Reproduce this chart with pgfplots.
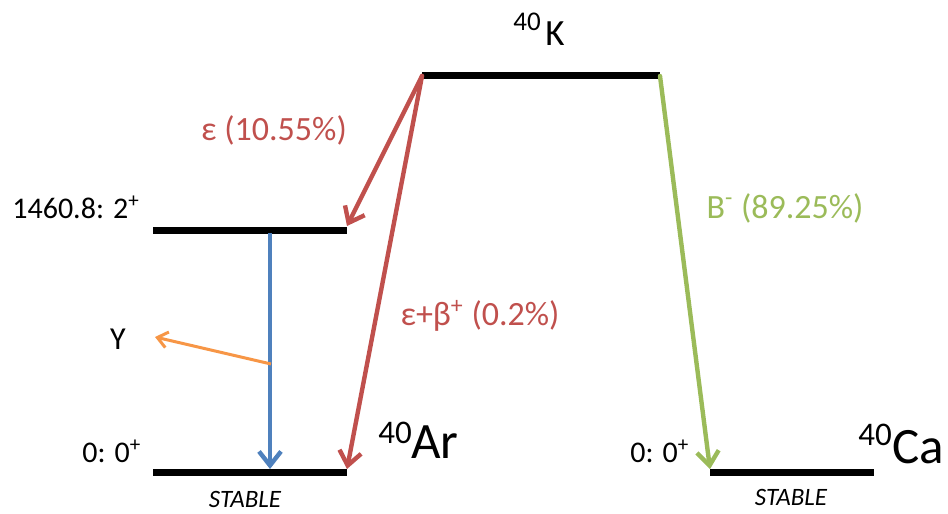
\documentclass[border=0pt]{standalone}
\usepackage{pgfplots}
\pgfplotsset{compat=1.18}
\usepackage{fontspec}
\setmainfont{Carlito}
\usetikzlibrary{arrows.meta}
\definecolor{dred}{HTML}{C0504D}
\definecolor{dgreen}{HTML}{9BBB59}
\definecolor{dblue}{HTML}{4F81BD}
\definecolor{dorange}{HTML}{F79646}
\newcommand{\fs}[1]{\fontsize{#1}{#1}\selectfont}
\begin{document}
\begin{tikzpicture}
\begin{axis}[x=0.5pt,y=0.5pt,xmin=0,xmax=948,ymin=0,ymax=514,y dir=reverse,
  hide axis,clip=false]
\addplot[draw=none,mark=none,forget plot] coordinates {(0,0) (948,514)};
% levels
\addplot[black,line width=3.5pt,mark=none] coordinates {(422,75) (660,75)};
\addplot[black,line width=3.5pt,mark=none] coordinates {(153,230) (347,230)};
\addplot[black,line width=3.5pt,mark=none] coordinates {(153,472) (347,472)};
\addplot[black,line width=3.5pt,mark=none] coordinates {(710,472) (874,472)};
% transitions
\addplot[dred,line width=2.2pt,mark=none,line cap=round,-{Straight Barb[length=7pt,width=11pt,line width=2.2pt]}] coordinates {(422,76) (347,226)};
\addplot[dred,line width=2.2pt,mark=none,line cap=round,-{Straight Barb[length=7pt,width=11pt,line width=2.2pt]}] coordinates {(422,76) (347,469)};
\addplot[dgreen,line width=2.2pt,mark=none,line cap=round,-{Straight Barb[length=7pt,width=11pt,line width=2.2pt]}] coordinates {(660,76) (710,469)};
\addplot[dblue,line width=2.2pt,mark=none,-{Straight Barb[length=7pt,width=11pt,line width=2.2pt]}] coordinates {(270,233) (270,469)};
\addplot[dorange,line width=1.5pt,mark=none,-{Straight Barb[length=5pt,width=8pt,line width=1.5pt]}] coordinates {(271,364) (155,337)};
% texts
\node[anchor=base west,inner sep=0pt] at (axis cs:513,30) {\fs{13.5}40};
\node[anchor=base west,inner sep=0pt] at (axis cs:545,45) {\fs{18.5}K};
\node[anchor=base west,inner sep=0pt] at (axis cs:378,443) {\fs{16.5}40};
\node[anchor=base west,inner sep=0pt] at (axis cs:411,458) {\fs{25.5}Ar};
\node[anchor=base west,inner sep=0pt] at (axis cs:858,445) {\fs{16.5}40};
\node[anchor=base west,inner sep=0pt] at (axis cs:892,463) {\fs{25.5}Ca};
\node[anchor=base west,inner sep=0pt] at (axis cs:12,218) {\fs{15}1460.8: 2\textsuperscript{+}};
\node[anchor=base west,inner sep=0pt] at (axis cs:82,462) {\fs{15}0: 0\textsuperscript{+}};
\node[anchor=base west,inner sep=0pt] at (axis cs:630,462) {\fs{15}0: 0\textsuperscript{+}};
\node[anchor=base,inner sep=0pt] at (axis cs:118,349) {\fs{16}Y};
\node[anchor=base,inner sep=0pt] at (axis cs:245,507) {\fs{12.5}\itshape STABLE};
\node[anchor=base,inner sep=0pt] at (axis cs:791,505) {\fs{12.5}\itshape STABLE};
\node[anchor=center,inner sep=0pt,text=dred] at (axis cs:274,130) {\fs{17}ε (10.55\%)};
\node[anchor=center,inner sep=0pt,text=dred] at (axis cs:480,316) {\fs{17}ε+β\textsuperscript{+} (0.2\%)};
\node[anchor=center,inner sep=0pt,text=dgreen] at (axis cs:785,208) {\fs{17}B\textsuperscript{-} (89.25\%)};
\end{axis}
\end{tikzpicture}
\end{document}
